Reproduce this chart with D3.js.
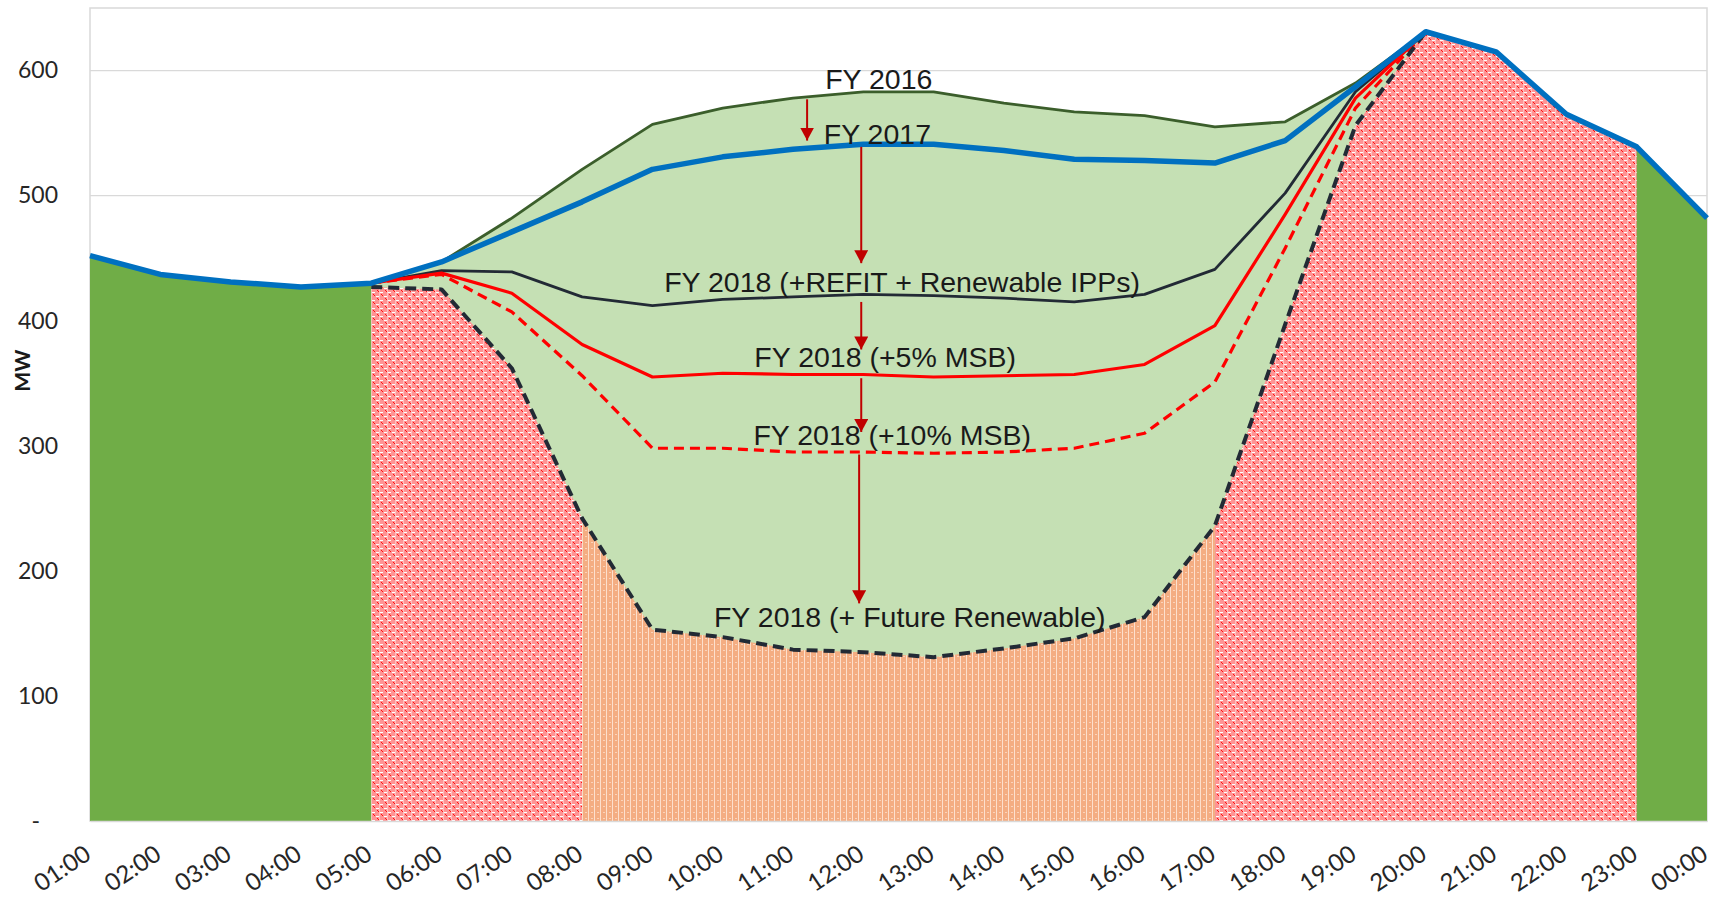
<!DOCTYPE html>
<html>
<head>
<meta charset="utf-8">
<script src="https://cdn.jsdelivr.net/npm/d3@7"></script>
<style>
  body { margin: 0; background: #fff; }
  svg text { font-family: Lato, "Liberation Sans", sans-serif; }
</style>
</head>
<body>
<div id="load_chart"></div>
<script>
// hourly categories, 01:00 .. 00:00
const hours = ["01:00","02:00","03:00","04:00","05:00","06:00","07:00","08:00","09:00","10:00","11:00","12:00",
               "13:00","14:00","15:00","16:00","17:00","18:00","19:00","20:00","21:00","22:00","23:00","00:00"];

// MW values (null = no point at that hour)
const fy2017 = [452, 437, 431, 427, 430, 447, 471, 495, 521, 531, 537, 541, 541, 536, 529, 528, 526, 544, 587, 631, 615, 565, 539, 482];
const fy2016 = [null, null, null, null, 430, 447, 482, 521, 557, 570, 578, 583, 583, 574, 567, 564, 555, 559, 590, 631, null, null, null, null];
const refit  = [null, null, null, null, 430, 440, 439, 419, 412, 417, 419, 421, 420, 418, 415, 421, 441, 502, 583, 631, null, null, null, null];
const msb5   = [null, null, null, null, 430, 438, 422, 381, 355, 358, 357, 357, 355, 356, 357, 365, 396, 485, 578, 631, null, null, null, null];
const msb10  = [null, null, null, null, 430, 437, 407, 356, 298, 298, 295, 295, 294, 295, 298, 310, 351, 458, 570, 631, null, null, null, null];
const future = [null, null, null, null, 427, 425, 362, 242, 153, 147, 137, 135, 131, 138, 146, 163, 236, 397, 556, 631, null, null, null, null];

// y axis ticks
const yTicks = [0, 100, 200, 300, 400, 500, 600];

// annotation texts: hour index (fractional) and MW of the baseline
const labels = [
  { text: "FY 2016", h: 11.22, mw: 585 },
  { text: "FY 2017", h: 11.2, mw: 541 },
  { text: "FY 2018 (+REFIT + Renewable IPPs)", h: 11.55, mw: 423 },
  { text: "FY 2018 (+5% MSB)", h: 11.31, mw: 363 },
  { text: "FY 2018 (+10% MSB)", h: 11.41, mw: 301 },
  { text: "FY 2018 (+ Future Renewable)", h: 11.66, mw: 155 }
];

// arrows: hour index, MW start, MW end
const arrows = [
  { h: 10.2, from: 577, to: 544 },
  { h: 10.97, from: 539, to: 446 },
  { h: 10.97, from: 415, to: 377 },
  { h: 10.97, from: 354, to: 311 },
  { h: 10.94, from: 293, to: 174 }
];

const W = 1723, H = 899;
const margin = {top: 8, right: 16, bottom: 78, left: 90};

const svg = d3.select("#load_chart")
  .append("svg")
  .attr("width", W)
  .attr("height", H);

const x = d3.scaleLinear()
  .domain([0, hours.length - 1])
  .range([margin.left, W - margin.right]);

const y = d3.scaleLinear()
  .domain([0, 650])
  .range([H - margin.bottom, margin.top]);

// fill patterns
const defs = svg.append("defs");

const redPat = defs.append("pattern")
  .attr("id", "redHatch")
  .attr("patternUnits", "userSpaceOnUse")
  .attr("width", 8).attr("height", 8);
redPat.append("rect").attr("width", 8).attr("height", 8).attr("fill", "#ff9494");
redPat.append("rect").attr("x", 0).attr("y", 0).attr("width", 3).attr("height", 1).attr("fill", "#fff");
redPat.append("rect").attr("x", 4).attr("y", 4).attr("width", 3).attr("height", 1).attr("fill", "#fff");
redPat.append("rect").attr("x", 3).attr("y", 0).attr("width", 1).attr("height", 8).attr("fill", "#ffc0c0");
redPat.append("rect").attr("x", 1).attr("y", 2).attr("width", 1).attr("height", 1).attr("fill", "#ff1010");
redPat.append("rect").attr("x", 2).attr("y", 3).attr("width", 1).attr("height", 1).attr("fill", "#ff1010");
redPat.append("rect").attr("x", 5).attr("y", 6).attr("width", 1).attr("height", 1).attr("fill", "#ff1010");
redPat.append("rect").attr("x", 6).attr("y", 7).attr("width", 1).attr("height", 1).attr("fill", "#ff1010");

const orangePat = defs.append("pattern")
  .attr("id", "orangeHatch")
  .attr("patternUnits", "userSpaceOnUse")
  .attr("width", 6).attr("height", 6);
orangePat.append("rect").attr("width", 6).attr("height", 6).attr("fill", "#f4ad82");
orangePat.append("rect").attr("x", 0).attr("y", 0).attr("width", 1).attr("height", 6).attr("fill", "#fde0cd");
orangePat.append("rect").attr("x", 3).attr("y", 2).attr("width", 2).attr("height", 1).attr("fill", "#fbd3ba");

defs.append("marker")
  .attr("id", "arrowHead")
  .attr("markerUnits", "userSpaceOnUse")
  .attr("markerWidth", 14).attr("markerHeight", 14)
  .attr("refX", 13).attr("refY", 7)
  .attr("orient", "auto")
  .append("path")
  .attr("d", "M0,0 L13,7 L0,14 Z")
  .attr("fill", "#c00000");

// gridlines
svg.append("g")
  .selectAll("line")
  .data(yTicks.filter(d => d > 0))
  .join("line")
  .attr("x1", x(0)).attr("x2", x(hours.length - 1))
  .attr("y1", d => y(d)).attr("y2", d => y(d))
  .attr("stroke", "#d9d9d9")
  .attr("stroke-width", 1.2);

// plot border
svg.append("rect")
  .attr("x", x(0)).attr("y", y(650))
  .attr("width", x(hours.length - 1) - x(0))
  .attr("height", y(0) - y(650))
  .attr("fill", "none")
  .attr("stroke", "#d9d9d9")
  .attr("stroke-width", 1.5);

const area = d3.area()
  .defined(d => d.v != null)
  .x(d => x(d.i))
  .y0(y(0))
  .y1(d => y(d.v));

const pts = arr => arr.map((v, i) => ({ i, v }));
const slice = (arr, a, b) => pts(arr).filter(d => d.i >= a && d.i <= b);

// solid green under FY 2017
svg.append("path")
  .datum(pts(fy2017))
  .attr("fill", "#70ad47")
  .attr("d", area);

// light green under FY 2016
svg.append("path")
  .datum(slice(fy2016, 4, 19))
  .attr("fill", "#c5e0b4")
  .attr("d", area);

// hatched fills under the lowest scenario (then FY 2017 after the peak)
const hatchTop = hours.map((h, i) => future[i] != null ? future[i] : fy2017[i]);

[[4, 7], [16, 22]].forEach(([a, b]) => {
  svg.append("path")
    .datum(slice(hatchTop, a, b))
    .attr("fill", "url(#redHatch)")
    .attr("d", area);
});

svg.append("path")
  .datum(slice(hatchTop, 7, 16))
  .attr("fill", "url(#orangeHatch)")
  .attr("d", area);

// lines
const line = d3.line()
  .defined(d => d.v != null)
  .x(d => x(d.i))
  .y(d => y(d.v));

const series = [
  { data: fy2016, color: "#3b5e2b", w: 2.8, dash: null },
  { data: refit, color: "#222a35", w: 2.8, dash: null },
  { data: msb5, color: "#ff0000", w: 3.2, dash: null },
  { data: msb10, color: "#ff0000", w: 3.2, dash: "10,6" },
  { data: future, color: "#222a35", w: 4, dash: "11,6" },
  { data: fy2017, color: "#0070c0", w: 5.5, dash: null }
];

series.forEach(s => {
  svg.append("path")
    .datum(pts(s.data))
    .attr("fill", "none")
    .attr("stroke", s.color)
    .attr("stroke-width", s.w)
    .attr("stroke-linejoin", "round")
    .attr("stroke-dasharray", s.dash)
    .attr("d", line);
});

// arrows
svg.append("g")
  .selectAll("line")
  .data(arrows)
  .join("line")
  .attr("x1", d => x(d.h)).attr("x2", d => x(d.h))
  .attr("y1", d => y(d.from)).attr("y2", d => y(d.to))
  .attr("stroke", "#c00000")
  .attr("stroke-width", 2)
  .attr("marker-end", "url(#arrowHead)");

// annotation texts
svg.append("g")
  .selectAll("text")
  .data(labels)
  .join("text")
  .attr("x", d => x(d.h))
  .attr("y", d => y(d.mw))
  .attr("text-anchor", "middle")
  .style("font-family", "'Liberation Sans', Arial, sans-serif")
  .style("font-size", "28.5px")
  .attr("fill", "#1a1a1a")
  .text(d => d.text);

// y axis
const yAxis = svg.append("g")
  .attr("transform", `translate(${x(0)},0)`)
  .call(d3.axisLeft(y)
    .tickValues(yTicks)
    .tickSize(0)
    .tickPadding(32)
    .tickFormat(d => d === 0 ? "-" : d));
yAxis.select(".domain").remove();
yAxis.selectAll("text")
  .style("font-size", "23px")
  .attr("fill", "#262626")
  .attr("dx", d => d === 0 ? -18 : 0);

// x axis
const xAxis = svg.append("g")
  .attr("transform", `translate(0,${y(0)})`)
  .call(d3.axisBottom(x)
    .tickValues(d3.range(hours.length))
    .tickSize(0)
    .tickFormat(i => hours[i]));
xAxis.select(".domain")
  .attr("stroke", "#d9d9d9")
  .attr("stroke-width", 1.5);
xAxis.selectAll("text")
  .style("font-size", "24px")
  .attr("fill", "#262626")
  .attr("text-anchor", "end")
  .attr("dy", null)
  .attr("y", 0)
  .attr("transform", "translate(2,37) rotate(-34)");

// y axis title
svg.append("text")
  .attr("transform", `translate(30,${y(360)}) rotate(-90)`)
  .attr("text-anchor", "middle")
  .style("font-size", "21px")
  .style("font-weight", "bold")
  .attr("fill", "#1a1a1a")
  .text("MW");
</script>
</body>
</html>
